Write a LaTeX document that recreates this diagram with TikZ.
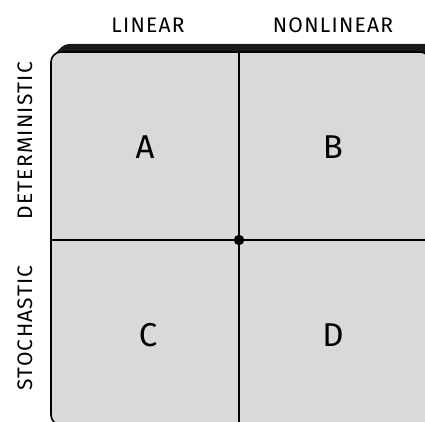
\documentclass[tikz,border=0pt]{standalone}
\usepackage{fontspec}
\setmainfont{Fira Sans}
\newfontfamily\headfont[LetterSpace=6]{Fira Sans}
\definecolor{cellgray}{HTML}{D9D9D9}
\definecolor{edgeblack}{HTML}{1A1A1A}
\tikzset{
  axislabel/.style={font=\headfont\fontsize{21}{24}\selectfont, inner sep=0pt, text=black},
  quadlabel/.style={font=\fontsize{33}{38}\selectfont, inner sep=0pt, text=black},
  divider/.style={line width=1.6pt, black},
  hub/.style={circle, fill=black, inner sep=0pt, minimum size=10.5pt},
}
\begin{document}
\begin{tikzpicture}[x=1pt,y=1pt]
\useasboundingbox (0,0) rectangle (425,421);
\begin{scope}
\clip (0,0) rectangle (425,421);
% extruded dark edge behind the board
\foreach \s in {0,0.5,...,8}
  \fill[edgeblack, rounded corners=10pt] (51+\s,-4+\s) rectangle (430+\s,369+\s);
% board
\draw[line width=1.6pt, fill=cellgray, rounded corners=10pt] (51,-4) rectangle (430,369);
% end points of the dividers
\coordinate (top) at (239,369);
\coordinate (bottom) at (239,-4);
\coordinate (left) at (51,181);
\coordinate (right) at (430,181);
\node[hub] (hub) at (239,181) {};
\draw[divider] (top) -- (hub) -- (bottom);
\draw[divider] (left) -- (hub) -- (right);
\end{scope}
% column headings
\node[axislabel] (lin) at (148,396) {LINEAR};
\node[axislabel] (nonlin) at (333,396) {NONLINEAR};
% row headings
\node[axislabel, rotate=90] (det) at (25,280) {DETERMINISTIC};
\node[axislabel, rotate=90] (sto) at (25,93) {STOCHASTIC};
% quadrant letters
\node[quadlabel] (qa) at (145,274) {A};
\node[quadlabel] (qb) at (333,274) {B};
\node[quadlabel] (qc) at (148,86) {C};
\node[quadlabel] (qd) at (333,86) {D};
\end{tikzpicture}
\end{document}
